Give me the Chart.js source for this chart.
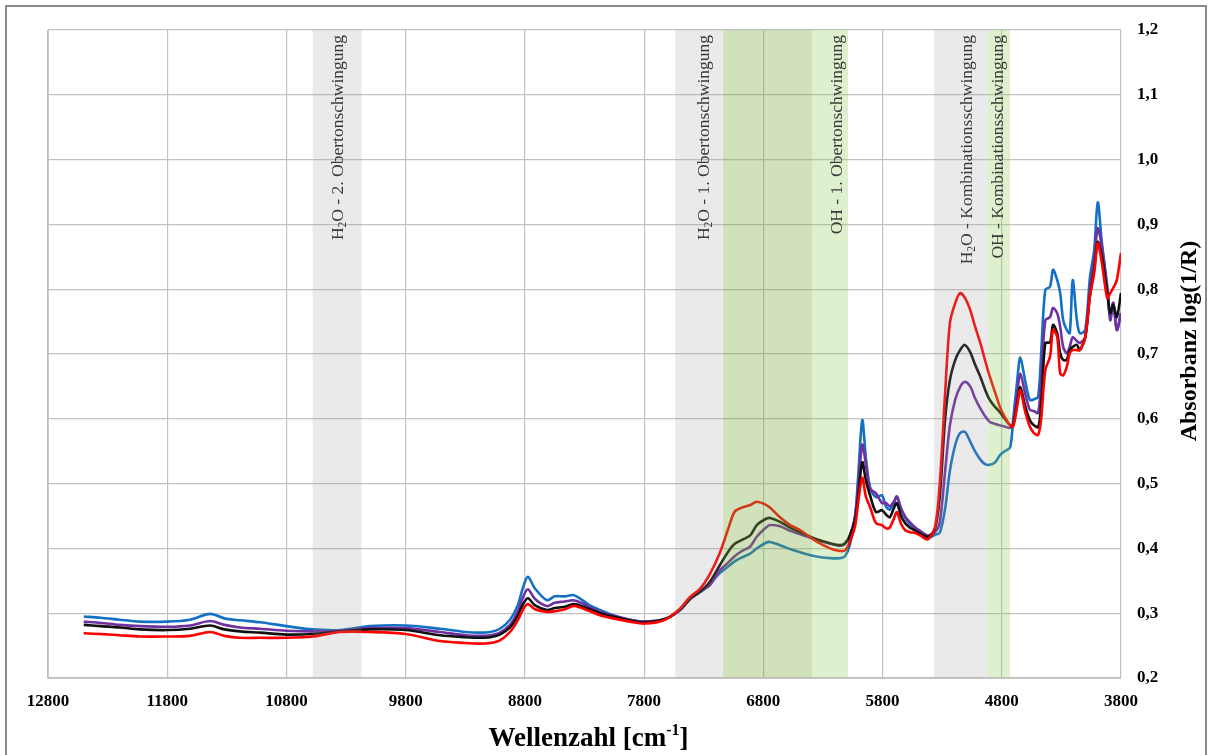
<!DOCTYPE html>
<html><head><meta charset="utf-8">
<script src="https://cdn.jsdelivr.net/npm/chart.js@4/dist/chart.umd.min.js"></script>
<style>
html,body{margin:0;padding:0;background:#fff;overflow:hidden}
#wrap{position:relative;width:1212px;height:755px}
#frame{position:absolute;left:5px;top:5px;width:1202px;height:770px;border:2px solid #8a8a8a;box-sizing:border-box;pointer-events:none}
canvas{position:absolute;left:0;top:0}
</style></head><body>
<div id="wrap"><canvas id="c" width="1212" height="755"></canvas><div id="frame"></div></div>
<script>
// Wellenzahl [cm-1]
const wavenumbers = [12500,12360,12200,12030,11800,11610,11440,11320,11190,11020,10800,10580,10350,10100,9800,9510,9300,9180,9090,9010,8925,8860,8815,8775,8715,8615,8550,8465,8395,8340,8255,8170,8060,7920,7795,7625,7500,7415,7330,7250,7165,7095,7040,6980,6910,6855,6785,6745,6660,6575,6490,6365,6240,6155,6115,6075,6030,6005,5970,5940,5905,5855,5805,5770,5740,5705,5680,5645,5610,5570,5530,5485,5420,5360,5320,5275,5235,5190,5150,5110,5065,5025,4980,4940,4900,4855,4815,4775,4730,4705,4670,4645,4605,4565,4530,4495,4470,4435,4395,4370,4335,4310,4285,4255,4230,4205,4170,4145,4100,4060,4025,3995,3960,3915,3890,3865,3835,3800];
const seriesBlue = [.295,.293,.290,.287,.287,.290,.299,.292,.289,.286,.280,.275,.274,.280,.281,.276,.271,.270,.271,.276,.290,.312,.340,.356,.338,.320,.326,.326,.328,.323,.312,.305,.297,.290,.287,.291,.305,.322,.333,.345,.362,.372,.380,.386,.392,.400,.408,.410,.405,.399,.394,.388,.385,.385,.388,.405,.450,.510,.598,.540,.495,.479,.482,.464,.460,.470,.480,.460,.447,.438,.431,.423,.416,.421,.424,.462,.520,.560,.578,.580,.565,.550,.537,.530,.529,.533,.544,.550,.556,.598,.660,.695,.660,.629,.630,.634,.700,.799,.804,.830,.814,.794,.752,.737,.732,.814,.752,.732,.737,.819,.860,.934,.871,.804,.757,.779,.737,.763];
const seriesPurple = [.287,.285,.282,.280,.279,.281,.288,.282,.278,.276,.273,.272,.273,.277,.277,.271,.266,.265,.266,.270,.282,.302,.325,.337,.322,.311,.316,.318,.320,.317,.309,.302,.296,.290,.287,.291,.305,.322,.333,.343,.366,.378,.388,.396,.403,.418,.431,.436,.434,.427,.422,.414,.407,.404,.407,.418,.450,.495,.560,.530,.492,.485,.470,.470,.465,.472,.480,.462,.449,.440,.433,.427,.420,.425,.440,.520,.590,.630,.649,.657,.650,.632,.616,.604,.595,.592,.590,.588,.586,.592,.640,.670,.640,.614,.612,.609,.660,.752,.757,.771,.763,.742,.711,.701,.711,.726,.720,.717,.726,.800,.845,.894,.865,.799,.752,.779,.737,.763];
const seriesBlack = [.282,.280,.278,.275,.274,.276,.281,.275,.272,.270,.267,.268,.272,.275,.274,.266,.263,.262,.263,.267,.278,.296,.314,.323,.312,.305,.308,.310,.314,.312,.306,.300,.295,.289,.286,.291,.305,.322,.333,.348,.374,.395,.407,.413,.420,.436,.445,.447,.441,.432,.425,.415,.408,.405,.408,.420,.445,.480,.533,.505,.482,.456,.459,.452,.448,.462,.470,.450,.439,.432,.428,.423,.418,.430,.480,.600,.660,.691,.706,.714,.703,.684,.665,.645,.629,.618,.610,.600,.590,.590,.625,.649,.620,.598,.590,.587,.620,.717,.718,.745,.732,.701,.691,.691,.706,.711,.714,.706,.726,.790,.830,.873,.850,.794,.763,.776,.757,.794];
const seriesRed = [.269,.268,.266,.264,.264,.265,.271,.265,.262,.262,.262,.264,.271,.271,.268,.257,.254,.253,.254,.258,.271,.289,.306,.314,.306,.302,.303,.306,.311,.309,.303,.297,.292,.287,.284,.290,.307,.325,.338,.360,.393,.430,.457,.463,.467,.472,.468,.463,.448,.436,.428,.412,.400,.396,.397,.410,.435,.470,.509,.480,.464,.439,.436,.431,.432,.446,.456,.438,.428,.425,.424,.420,.414,.433,.500,.640,.748,.779,.794,.787,.768,.743,.717,.690,.665,.640,.618,.603,.590,.588,.620,.644,.612,.588,.578,.575,.600,.675,.696,.737,.726,.670,.667,.680,.701,.706,.706,.706,.726,.790,.825,.871,.840,.786,.794,.802,.814,.856];
const seriesNames = ['Rot','Schwarz','Violett','Blau'];
// Bands (wavenumber ranges)
const bandFrom = [10580, 7540, 7137, 6391, 5367, 4914];
const bandTo   = [10170, 7137, 6391, 6089, 4914, 4730];
const bandKind = ['grau','grau','gruen','hellgruen','grau','hellgruen'];
const labelTexts = [['H','2','O - 2. Obertonschwingung'],['H','2','O - 1. Obertonschwingung'],['','','OH - 1. Obertonschwingung'],['H','2','O - Kombinationsschwingung'],['','','OH - Kombinationsschwingung']];
const labelPos = [10368, 7298, 6182, 5092, 4832];
const xTicks = [12800,11800,10800,9800,8800,7800,6800,5800,4800,3800];
const yTicks = [0.2,0.3,0.4,0.5,0.6,0.7,0.8,0.9,1.0,1.1,1.2];

const colors = ['#ff0000','#111111','#7030a0','#1271c4'];
const fills = {grau:'rgba(150,150,150,0.2)', gruen:'rgba(120,170,60,0.35)', hellgruen:'rgba(140,200,80,0.28)'};
const allSeries = [seriesRed, seriesBlack, seriesPurple, seriesBlue];

const overlay = {
  id:'overlay',
  afterDatasetsDraw(chart){
    const {ctx, chartArea:a, scales:{x,y}} = chart;
    ctx.save();
    for(let i=0;i<bandFrom.length;i++){
      const x1 = x.getPixelForValue(bandFrom[i]), x2 = x.getPixelForValue(bandTo[i]);
      ctx.fillStyle = fills[bandKind[i]];
      ctx.fillRect(Math.min(x1,x2), a.top, Math.abs(x2-x1), a.bottom-a.top);
    }
    // band labels
    ctx.fillStyle = '#3a3a3a';
    ctx.textBaseline = 'middle';
    for(let i=0;i<labelTexts.length;i++){
      const [p1,sub,p2] = labelTexts[i];
      const big = '17.5px "Liberation Serif", "Times New Roman", serif';
      const small = '11.5px "Liberation Serif", "Times New Roman", serif';
      ctx.font = big; const w1 = ctx.measureText(p1).width, w3 = ctx.measureText(p2).width;
      ctx.font = small; const w2 = ctx.measureText(sub).width;
      const total = w1+w2+w3;
      const cx = x.getPixelForValue(labelPos[i]);
      ctx.save();
      ctx.translate(cx, a.top + 5);
      ctx.rotate(-Math.PI/2);
      let px = -total;
      ctx.textAlign='left';
      ctx.font = big; ctx.fillText(p1, px, 0); px += w1;
      ctx.font = small; ctx.fillText(sub, px, 5); px += w2;
      ctx.font = big; ctx.fillText(p2, px, 0);
      ctx.restore();
    }
    ctx.restore();
  },
  afterDraw(chart){
    const {ctx, chartArea:a} = chart;
    ctx.save();
    ctx.fillStyle = '#000';
    // x title
    const f1 = 'bold 27px "Liberation Serif", "Times New Roman", serif';
    const f2 = 'bold 16px "Liberation Serif", "Times New Roman", serif';
    const t1 = 'Wellenzahl [cm', t2 = '-1', t3 = ']';
    ctx.font=f1; const w1=ctx.measureText(t1).width, w3=ctx.measureText(t3).width;
    ctx.font=f2; const w2=ctx.measureText(t2).width;
    let sx = (a.left+a.right)/2 + 4 - (w1+w2+w3)/2;
    const by = 746;
    ctx.textBaseline='alphabetic'; ctx.textAlign='left';
    ctx.font=f1; ctx.fillText(t1, sx, by); sx+=w1;
    ctx.font=f2; ctx.fillText(t2, sx, by-11); sx+=w2;
    ctx.font=f1; ctx.fillText(t3, sx, by);
    // y title
    ctx.save();
    ctx.translate(1190, 341);
    ctx.rotate(-Math.PI/2);
    ctx.textAlign='center'; ctx.textBaseline='middle';
    ctx.font='bold 24px "Liberation Serif", "Times New Roman", serif';
    ctx.fillText('Absorbanz log(1/R)', 0, 0);
    ctx.restore();
    // plot frame (left & bottom)
    ctx.strokeStyle='#bdbdbd'; ctx.lineWidth=1.5;
    ctx.beginPath(); ctx.moveTo(a.left, a.top); ctx.lineTo(a.left, a.bottom); ctx.lineTo(a.right, a.bottom); ctx.stroke();
    ctx.restore();
  }
};

new Chart(document.getElementById('c'), {
  type:'line',
  data:{ datasets: allSeries.map((s,i)=>({
    label: seriesNames[i],
    data: wavenumbers.map((w,j)=>({x:w, y:s[j]})),
    borderColor: colors[i], backgroundColor: colors[i],
    borderWidth: 2.6, pointRadius:0, tension:0.3, fill:false
  }))},
  options:{
    responsive:false, animation:false, devicePixelRatio:1,
    layout:{padding:{left:48, top:30, right:0, bottom:0}},
    plugins:{legend:{display:false}, tooltip:{enabled:false}},
    scales:{
      x:{type:'linear', reverse:true, min:3800, max:12800,
        afterBuildTicks: s => { s.ticks = xTicks.map(v=>({value:v})); },
        afterFit: s => { s.height = 77; },
        grid:{color:'#c2c2c2', lineWidth:1.2, drawTicks:false},
        border:{display:false},
        ticks:{padding:13, color:'#000', maxRotation:0, autoSkip:false,
          font:{family:'"Liberation Serif", "Times New Roman", serif', size:17, weight:'bold'},
          callback: v => String(v)}
      },
      y:{type:'linear', position:'right', min:0.2, max:1.2,
        afterBuildTicks: s => { s.ticks = yTicks.map(v=>({value:v})); },
        afterFit: s => { s.width = 91; },
        grid:{color:'#c2c2c2', lineWidth:1.2, drawTicks:false},
        border:{display:false},
        ticks:{padding:16, color:'#000',
          font:{family:'"Liberation Serif", "Times New Roman", serif', size:17, weight:'bold'},
          callback: v => v.toFixed(1).replace('.', ',')}
      }
    }
  },
  plugins:[overlay]
});
</script>
</body></html>
